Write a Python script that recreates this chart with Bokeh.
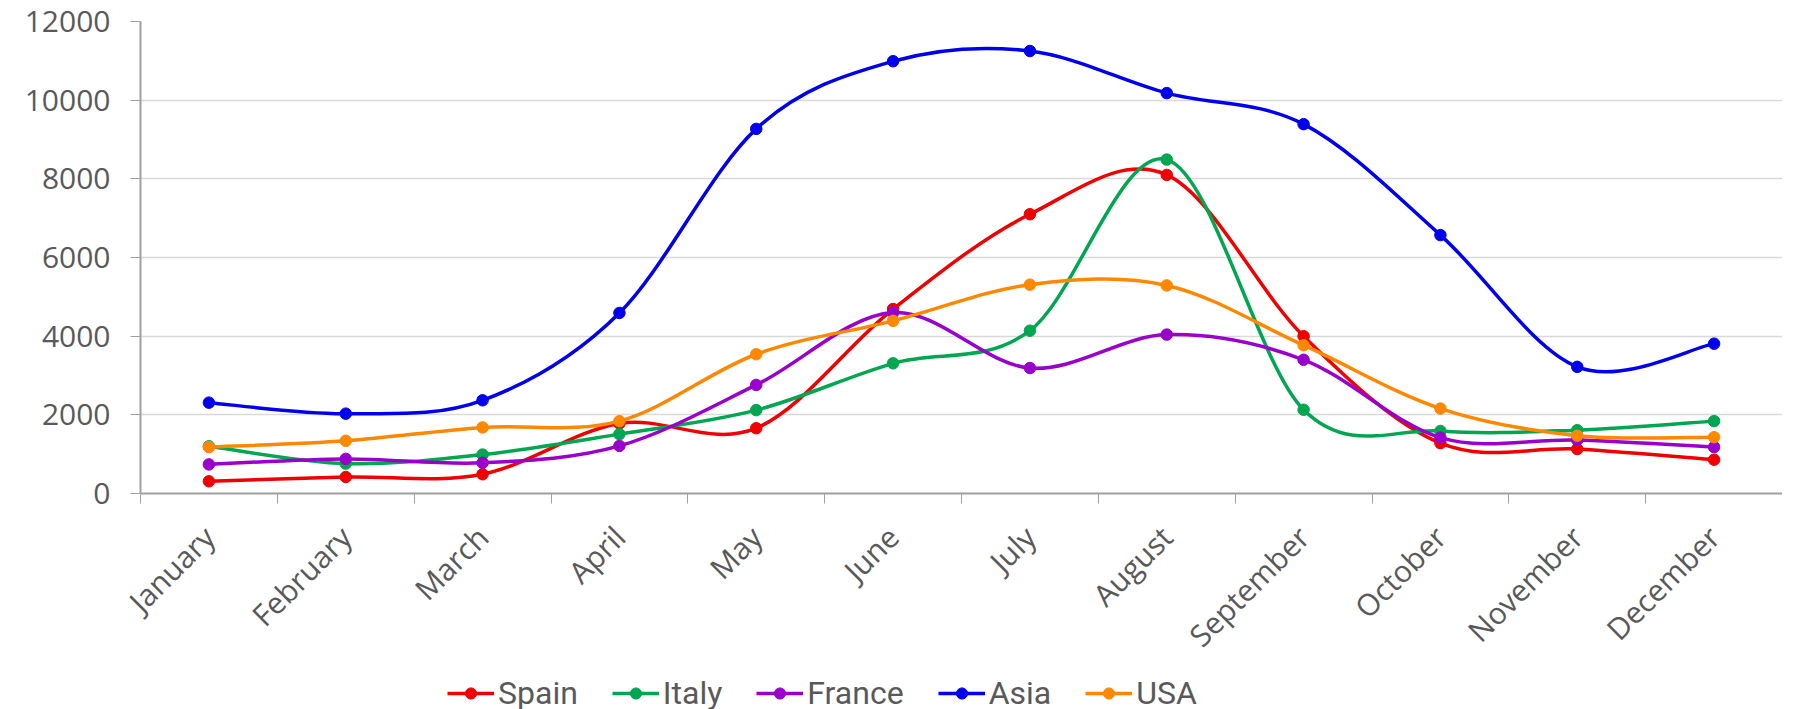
from bokeh.plotting import figure
from bokeh.layouts import column
from bokeh.models import (ColumnDataSource, FixedTicker, Legend, LegendItem,
                          Range1d)
from bokeh.embed import file_html
from bokeh.resources import INLINE

months = ["January", "February", "March", "April", "May", "June", "July",
          "August", "September", "October", "November", "December"]
spain = [310, 420, 490, 1780, 1660, 4690, 7100, 8100, 4000, 1280, 1130, 860]
italy = [1200, 760, 990, 1510, 2120, 3310, 4140, 8490, 2130, 1590, 1610, 1840]
france = [740, 880, 780, 1210, 2760, 4600, 3190, 4040, 3400, 1420, 1360, 1180]
asia = [2310, 2030, 2370, 4590, 9270, 10990, 11250, 10180, 9390, 6570, 3220, 3810]
usa = [1180, 1340, 1680, 1840, 3540, 4390, 5310, 5290, 3770, 2160, 1470, 1430]

series_names = ["Spain", "Italy", "France", "Asia", "USA"]
series_values = [spain, italy, france, asia, usa]
series_colors = ["#f00000", "#00a650", "#9900cc", "#0000ee", "#ff8800"]
y_ticks = [0, 2000, 4000, 6000, 8000, 10000, 12000]

TEXT = "#595959"
AXIS = "#a0a0a0"


def spline_segments(xs, ys):
    """Catmull-Rom spline expressed as cubic Bezier segments."""
    n = len(xs)
    seg = dict(x0=[], y0=[], x1=[], y1=[], cx0=[], cy0=[], cx1=[], cy1=[])
    for i in range(n - 1):
        xp, yp = (xs[i - 1], ys[i - 1]) if i > 0 else (xs[i], ys[i])
        xn, yn = (xs[i + 2], ys[i + 2]) if i + 2 < n else (xs[i + 1], ys[i + 1])
        seg["x0"].append(xs[i]); seg["y0"].append(ys[i])
        seg["x1"].append(xs[i + 1]); seg["y1"].append(ys[i + 1])
        seg["cx0"].append(xs[i] + (xs[i + 1] - xp) / 6)
        seg["cy0"].append(ys[i] + (ys[i + 1] - yp) / 6)
        seg["cx1"].append(xs[i + 1] - (xn - xs[i]) / 6)
        seg["cy1"].append(ys[i + 1] - (yn - ys[i]) / 6)
    return seg


xs = list(range(len(months)))

p = figure(frame_width=1642, frame_height=472,
           x_range=Range1d(-0.5, len(months) - 0.5),
           y_range=Range1d(0, 12000),
           output_backend="svg", toolbar_location=None,
           min_border_left=140, min_border_right=0, min_border_top=21,
           min_border_bottom=160)
p.outline_line_color = None
p.background_fill_color = "white"
p.border_fill_color = "white"

for name, vals, col in zip(series_names, series_values, series_colors):
    src = ColumnDataSource(spline_segments(xs, vals))
    p.bezier(x0="x0", y0="y0", x1="x1", y1="y1", cx0="cx0", cy0="cy0",
             cx1="cx1", cy1="cy1", source=src, line_color=col, line_width=3.5)
    p.scatter(x=xs, y=vals, size=11.5, fill_color=col, line_color=col,
              line_width=1)

# x axis
xa = p.xaxis[0]
xa.ticker = FixedTicker(ticks=xs, minor_ticks=[x - 0.5 for x in range(len(months) + 1)])
xa.major_label_overrides = {i: m for i, m in enumerate(months)}
xa.major_label_orientation = 0.785398
xa.major_tick_out = 0
xa.major_tick_in = 0
xa.minor_tick_out = 10
xa.minor_tick_in = 0
xa.minor_tick_line_color = AXIS
xa.minor_tick_line_width = 1
xa.axis_line_color = AXIS
xa.axis_line_width = 2
xa.major_label_text_font = "Open Sans"
xa.major_label_text_font_size = "30px"
xa.major_label_text_color = TEXT
xa.major_label_standoff = 28

# y axis
ya = p.yaxis[0]
ya.ticker = FixedTicker(ticks=y_ticks)
ya.major_tick_out = 10
ya.major_tick_in = 0
ya.major_tick_line_color = AXIS
ya.minor_tick_line_color = None
ya.axis_line_color = AXIS
ya.axis_line_width = 2
ya.major_label_text_font = "Open Sans"
ya.major_label_text_font_size = "30px"
ya.major_label_text_color = TEXT
ya.major_label_standoff = 20

p.xgrid.grid_line_color = None
p.ygrid.grid_line_color = "#d9d9d9"
p.ygrid.grid_line_width = 1.5

# legend strip (separate figure so it sits below the rotated month labels)
lg = figure(width=1782, height=40, x_range=Range1d(0, 1), y_range=Range1d(0, 1),
            output_backend="svg", toolbar_location=None,
            x_axis_location=None, y_axis_location=None,
            min_border_left=0, min_border_right=0, min_border_top=0,
            min_border_bottom=0)
lg.outline_line_color = None
lg.xgrid.grid_line_color = None
lg.ygrid.grid_line_color = None
nan = float("nan")
items = []
for name, col in zip(series_names, series_colors):
    r_l = lg.line(x=[nan], y=[nan], line_color=col, line_width=3.5)
    r_s = lg.scatter(x=[nan], y=[nan], size=11.5, fill_color=col, line_color=col)
    items.append(LegendItem(label=name, renderers=[r_l, r_s]))

legend = Legend(items=items, orientation="horizontal", location=(307, 0),
                glyph_width=47, glyph_height=28, label_standoff=4, spacing=34,
                padding=0, margin=0, border_line_color=None,
                background_fill_alpha=0,
                label_text_font="Roboto", label_text_font_size="32px",
                label_text_color=TEXT)
lg.add_layout(legend, "center")

layout = column(p, lg, spacing=0)
open("out.html", "w").write(file_html(layout, INLINE))
